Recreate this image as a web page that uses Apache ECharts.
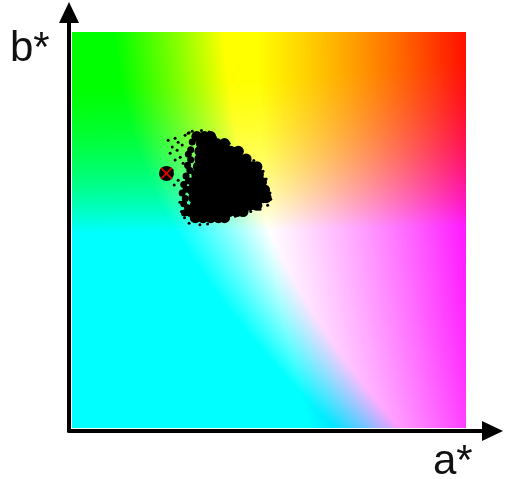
<!DOCTYPE html>
<html style="height: 100%; width: 100%; overflow: hidden">
<head>
    <meta charset="UTF-8">
    <title>a*b* plane</title>
    <script type="text/javascript" src="https://cdn.jsdelivr.net/npm/echarts@6/dist/echarts.min.js"></script>
</head>
<body style="height: 100%; width: 100%; margin: 0; background: #fff">
<div id="container" style="height: 479px; width: 505px"></div>
</body>
</html>

<script type="text/javascript">

    // a*, b* extent of the colour plane
    var planeBox = [[-128, 128, 128, -128]];

    // dense core of the cloud (a*, b*)
    var coreCloud = [
        [-47, 60.5], [-42, 60.5], [-38, 60.5],
        [-44, 56], [-39, 56], [-34, 56], [-29, 56],
        [-45, 51], [-40, 51], [-35, 51], [-30, 51], [-25, 51], [-20, 51],
        [-45, 46], [-40, 46], [-35, 46], [-30, 46], [-25, 46], [-20, 46], [-15, 46],
        [-46, 41], [-41, 41], [-36, 41], [-31, 41], [-26, 41], [-21, 41], [-16, 41], [-11, 41], [-8, 41],
        [-47, 36], [-42, 36], [-37, 36], [-32, 36], [-27, 36], [-22, 36], [-17, 36], [-12, 36], [-7, 36],
        [-49, 31], [-44, 31], [-39, 31], [-34, 31], [-29, 31], [-24, 31], [-19, 31], [-14, 31], [-9, 31], [-5, 31],
        [-50, 26], [-45, 26], [-40, 26], [-35, 26], [-30, 26], [-25, 26], [-20, 26], [-15, 26], [-10, 26], [-5, 26], [-3, 26],
        [-49, 21], [-44, 21], [-39, 21], [-34, 21], [-29, 21], [-24, 21], [-19, 21], [-14, 21], [-9, 21], [-4, 21], [-2, 21],
        [-48, 16], [-43, 16], [-38, 16], [-33, 16], [-28, 16], [-23, 16], [-18, 16], [-13, 16], [-8, 16],
        [-51, 12], [-46, 12], [-41, 12], [-36, 12], [-31, 12], [-26, 12], [-21, 12], [-17, 12],
        [-48, 8], [-43, 8], [-38, 8], [-33, 8], [-29, 8]
    ];

    // thinner left flank of the cloud
    var flankCloud = [
        [-50, 57], [-51, 52], [-52.5, 49], [-51, 45.5], [-53, 42], [-51.5, 38.5], [-54, 35],
        [-52.5, 32], [-55.5, 29.5], [-54, 26.5], [-56.5, 24], [-54.5, 20.5], [-55.5, 17],
        [-53, 14.5], [-55, 11]
    ];

    // loose points round the edge of the cloud
    var edgeCloud = [
        [-52, 63], [-50, 64], [-44, 64.5], [-39, 63.5],
        [-35, 60], [-30, 58], [-26, 56], [-22, 53], [-18, 51], [-14, 48], [-10, 45], [-7, 43], [-4, 38], [-2, 33],
        [-45, 3.5], [-40, 4], [-33, 5.5], [-27, 7], [-22, 9], [-17, 10], [-12, 12], [-6, 13.5], [-1, 16], [1, 20], [0.5, 24],
        [-65.6, 58.2], [-61.1, 59.5], [-59.1, 56.9], [-63, 53.7], [-59.8, 51.7], [-56.5, 55], [-64.3, 49.8],
        [-57.8, 47.2], [-54.6, 61.4], [-52.6, 62.7], [-61.1, 45.3], [-55.9, 43.3], [-53.3, 40.1],
        [-63, 38.8], [-59.1, 32.3], [-61.7, 29.1], [-58, 18], [-57, 12], [-55, 8], [-52, 4.5]
    ];

    // reference colour marked with a cross
    var refPoint = [[-66.7, 36.7]];

    var axisNames = ['a*', 'b*'];

    // Lab (L = 100) -> RGB, clipped, shown without gamma
    function labColor(L, a, b) {
        var fy = (L + 16) / 116, fx = fy + a / 500, fz = fy - b / 200;
        var f = function (t) { return t > 6 / 29 ? t * t * t : 3 * (6 / 29) * (6 / 29) * (t - 4 / 29); };
        var X = 0.95047 * f(fx), Y = f(fy), Z = 1.08883 * f(fz);
        var lin = [
            3.2406 * X - 1.5372 * Y - 0.4986 * Z,
            -0.9689 * X + 1.8758 * Y + 0.0415 * Z,
            0.0557 * X - 0.2040 * Y + 1.0570 * Z
        ];
        return lin.map(function (c) {
            return Math.round(Math.max(0, Math.min(1, c)) * 255);
        });
    }

    var plane = document.createElement('canvas');
    plane.width = 256;
    plane.height = 256;
    (function () {
        var ctx = plane.getContext('2d');
        var img = ctx.createImageData(256, 256);
        for (var j = 0; j < 256; j++) {
            for (var i = 0; i < 256; i++) {
                var rgb = labColor(100, -128 + i + 0.5, 128 - j - 0.5);
                var k = (j * 256 + i) * 4;
                img.data[k] = rgb[0];
                img.data[k + 1] = rgb[1];
                img.data[k + 2] = rgb[2];
                img.data[k + 3] = 255;
            }
        }
        ctx.putImageData(img, 0, 0);
    })();

    var dom = document.getElementById("container");
    var myChart = echarts.init(dom);

    var axisLine = {
        show: true,
        onZero: false,
        symbol: ['none', 'triangle'],
        symbolSize: [20, 21],
        lineStyle: { color: '#000', width: 4 }
    };

    var option = {
        animation: false,
        grid: { left: 69, right: 12.5, top: 12.5, bottom: 48 },
        xAxis: {
            type: 'value', min: -130, max: 145,
            axisLine: axisLine, axisTick: { show: false }, axisLabel: { show: false }, splitLine: { show: false }
        },
        yAxis: {
            type: 'value', min: -130, max: 140.8,
            axisLine: axisLine, axisTick: { show: false }, axisLabel: { show: false }, splitLine: { show: false }
        },
        graphic: [
            { type: 'text', style: { text: axisNames[1], font: '42px "Liberation Sans"', fill: '#111' }, position: [10, 28] },
            { type: 'text', style: { text: axisNames[0], font: '42px "Liberation Sans"', fill: '#111' }, position: [433, 441] }
        ],
        series: [
            {
                type: 'custom',
                silent: true,
                z: 1,
                data: planeBox,
                renderItem: function (params, api) {
                    var p1 = api.coord([api.value(0), api.value(1)]);
                    var p2 = api.coord([api.value(2), api.value(3)]);
                    return {
                        type: 'image',
                        style: { image: plane, x: p1[0], y: p1[1], width: p2[0] - p1[0], height: p2[1] - p1[1] }
                    };
                }
            },
            {
                type: 'scatter', z: 2, silent: true,
                symbolSize: 11,
                itemStyle: { color: '#000', opacity: 1 },
                data: coreCloud
            },
            {
                type: 'scatter', z: 2, silent: true,
                symbolSize: 7,
                itemStyle: { color: '#000', opacity: 1 },
                data: flankCloud
            },
            {
                type: 'scatter', z: 2, silent: true,
                symbolSize: 3,
                itemStyle: { color: '#000', opacity: 1 },
                data: edgeCloud
            },
            {
                type: 'scatter', z: 3, silent: true,
                symbolSize: 15,
                itemStyle: { color: '#000', opacity: 1 },
                data: refPoint
            },
            {
                type: 'scatter', z: 4, silent: true,
                symbol: 'path://M0,0L10,10M10,0L0,10',
                symbolSize: 11,
                itemStyle: { color: 'none', borderColor: '#e00000', borderWidth: 1.8, opacity: 1 },
                data: refPoint
            }
        ]
    };

    myChart.setOption(option);

</script>
